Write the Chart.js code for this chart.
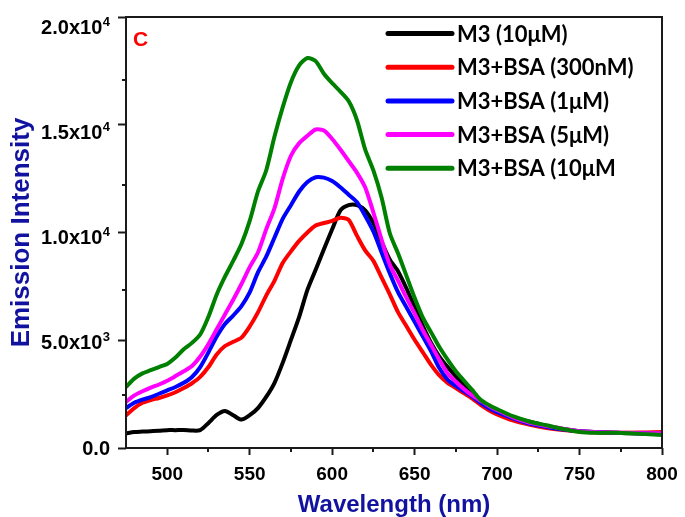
<!DOCTYPE html>
<html>
<head>
<meta charset="utf-8">
<script src="https://cdn.jsdelivr.net/npm/chart.js@4.4.1/dist/chart.umd.min.js"></script>
<style>
  html, body { margin: 0; padding: 0; background: #ffffff; }
  #wrap { width: 685px; height: 517px; position: relative; }
</style>
</head>
<body>
<div id="wrap"><canvas id="c" width="685" height="517"></canvas></div>
<script>
// Emission wavelengths (nm)
const wavelengths = [
  475, 480, 485, 490, 495, 500, 505, 510, 515, 520,
  525, 530, 535, 540, 545, 550, 555, 560, 565, 570,
  575, 580, 585, 590, 595, 600, 605, 610, 615, 620,
  625, 630, 635, 640, 645, 650, 655, 660, 665, 670,
  675, 680, 685, 690, 695, 700,
  710, 720, 730, 740, 750, 760, 770, 780, 790, 800
];

// Emission intensity for each sample
const m3Only = [
  700, 760, 780, 800, 820, 850, 850, 860, 830, 850,
  1190, 1570, 1760, 1560, 1350, 1560, 1900, 2430, 3090, 4050,
  5140, 6240, 7520, 8480, 9450, 10400, 11300, 11550, 11550, 11300,
  10700, 9800, 8950, 8400, 7600, 6700, 5800, 5000, 4350, 3850,
  3400, 3000, 2600, 2250, 2000, 1800,
  1450, 1250, 1050, 900, 800, 760, 730, 700, 690, 680
];
const bsa300nM = [
  1550, 1900, 2150, 2280, 2380, 2500, 2650, 2850, 3080, 3380,
  3850, 4450, 4850, 5050, 5250, 5780, 6450, 7250, 7950, 8800,
  9350, 9850, 10250, 10580, 10700, 10800, 10950, 10850, 10100, 9400,
  8900, 8100, 7300, 6450, 5800, 5150, 4550, 3950, 3450, 3100,
  2850, 2600, 2350, 2050, 1800, 1600,
  1300, 1100, 950, 850, 780, 740, 720, 730, 740, 760
];
const bsa1uM = [
  1900, 2150, 2300, 2420, 2580, 2740, 2900, 3100, 3380, 3850,
  4550, 5300, 5900, 6300, 6750, 7400, 8350, 9100, 10000, 10900,
  11550, 12200, 12650, 12880, 12860, 12700, 12400, 12050, 11700, 11050,
  10300, 9300, 8300, 7400, 6700, 6000, 5300, 4600, 3800, 3250,
  2950, 2700, 2450, 2150, 1900, 1700,
  1400, 1150, 1000, 880, 800, 760, 730, 710, 700, 690
];
const bsa5uM = [
  2190, 2500, 2700, 2870, 3020, 3200, 3420, 3650, 3900, 4350,
  4950, 5650, 6350, 7050, 7800, 8600, 9300, 10400, 11400, 12800,
  13900, 14500, 14850, 15150, 15100, 14700, 14200, 13650, 13100, 12400,
  11200, 9900, 8700, 7950, 7150, 6400, 5600, 4900, 4200, 3550,
  3150, 2800, 2500, 2250, 2000, 1800,
  1450, 1200, 1050, 920, 800, 760, 740, 720, 700, 700
];
const bsa10uM = [
  2900, 3300, 3550, 3700, 3850, 4000, 4300, 4700, 5000, 5400,
  6240, 7300, 8150, 8900, 9700, 10800, 12200, 13200, 14800, 16200,
  17400, 18200, 18550, 18400, 17800, 17350, 16950, 16500, 15600, 14200,
  13200, 11900, 10200, 9250, 8200, 7150, 6200, 5500, 4800, 4200,
  3650, 3200, 2750, 2300, 2050, 1850,
  1500, 1250, 1080, 900, 760, 720, 720, 700, 660, 620
];

const seriesNames = ['M3 (10\u03bcM)', 'M3+BSA (300nM)', 'M3+BSA (1\u03bcM)', 'M3+BSA (5\u03bcM)', 'M3+BSA (10\u03bcM'];
const seriesValues = [m3Only, bsa300nM, bsa1uM, bsa5uM, bsa10uM];
const seriesColors = ['#000000', '#ff0000', '#0000ff', '#ff00ff', '#008000'];

// Axis tick labels: mantissa and power of ten
const yTickValues = [0, 5000, 10000, 15000, 20000];
const yTickLabels = [['0.0', ''], ['5.0x10', '3'], ['1.0x10', '4'], ['1.5x10', '4'], ['2.0x10', '4']];
const yMinorTicks = [2500, 7500, 12500, 17500];
const xMinorTicks = [525, 575, 625, 675, 725, 775];

const TITLE_BLUE = '#1212a0';
const AXIS_FONT = '"Liberation Sans", Arial, sans-serif';

const datasets = seriesValues.map((vals, i) => ({
  label: seriesNames[i],
  data: wavelengths.map((w, j) => ({ x: w, y: vals[j] })),
  borderColor: seriesColors[i],
  backgroundColor: seriesColors[i],
  borderWidth: 4,
  pointRadius: 0,
  tension: 0.25,
  fill: false,
  order: seriesValues.length - 1 - i
}));

// Frame, minor ticks, y tick labels with exponents, panel letter and legend
const decorations = {
  id: 'decorations',
  afterDatasetsDraw(chart) {
    const ctx = chart.ctx;
    const a = chart.chartArea;
    const xs = chart.scales.x, ys = chart.scales.y;
    ctx.save();
    // plot frame
    ctx.strokeStyle = '#1a1a1a';
    ctx.lineWidth = 2;
    ctx.strokeRect(a.left, a.top, a.right - a.left, a.bottom - a.top);

    // minor ticks
    ctx.beginPath();
    yMinorTicks.forEach(v => {
      const y = Math.round(ys.getPixelForValue(v));
      ctx.moveTo(a.left, y); ctx.lineTo(a.left - 4, y);
    });
    xMinorTicks.forEach(v => {
      const x = Math.round(xs.getPixelForValue(v));
      ctx.moveTo(x, a.bottom); ctx.lineTo(x, a.bottom + 4);
    });
    ctx.stroke();

    // y tick labels
    ctx.fillStyle = '#000000';
    ctx.textBaseline = 'middle';
    const rightEdge = a.left - 16;
    yTickValues.forEach((v, i) => {
      const y = ys.getPixelForValue(v);
      const [base, exp] = yTickLabels[i];
      ctx.font = 'bold 13px ' + AXIS_FONT;
      const ew = exp ? ctx.measureText(exp).width : 0;
      if (exp) {
        ctx.textAlign = 'right';
        ctx.fillText(exp, rightEdge, y - 5);
      }
      ctx.font = 'bold 20px ' + AXIS_FONT;
      ctx.textAlign = 'right';
      ctx.fillText(base, rightEdge - ew - (exp ? 0.5 : 0), y + 1);
    });

    // panel letter
    ctx.fillStyle = '#ff0000';
    ctx.font = 'bold 21px ' + AXIS_FONT;
    ctx.textAlign = 'left';
    ctx.textBaseline = 'alphabetic';
    ctx.fillText('C', a.left + 7, a.top + 29);

    // legend
    const lx0 = 388, lx1 = 452, tx = 457, ly0 = 33.5, dy = 33.7;
    chart.data.datasets.forEach((ds, i) => {
      const y = ly0 + i * dy;
      ctx.strokeStyle = ds.borderColor;
      ctx.lineWidth = 5;
      ctx.lineCap = 'round';
      ctx.beginPath();
      ctx.moveTo(lx0, y); ctx.lineTo(lx1, y);
      ctx.stroke();
      ctx.fillStyle = '#000000';
      ctx.font = 'bold 22px Lato, "Open Sans", sans-serif';
      ctx.textBaseline = 'middle';
      ctx.textAlign = 'left';
      ctx.fillText(ds.label, tx, y + 1);
    });
    ctx.restore();
  }
};

new Chart(document.getElementById('c'), {
  type: 'line',
  data: { datasets },
  options: {
    responsive: false,
    animation: false,
    devicePixelRatio: 1,
    layout: { padding: { left: 0, top: 17, right: 23, bottom: 0 } },
    plugins: { legend: { display: false }, tooltip: { enabled: false } },
    scales: {
      x: {
        type: 'linear',
        min: 475,
        max: 800,
        border: { display: false },
        grid: { drawOnChartArea: false, drawTicks: true, tickLength: 7, tickWidth: 2, tickColor: '#1a1a1a' },
        ticks: {
          stepSize: 50,
          includeBounds: false,
          color: '#000000',
          padding: 8,
          maxRotation: 0,
          font: { family: AXIS_FONT, size: 19, weight: 'bold' }
        },
        title: {
          display: true,
          text: 'Wavelength (nm)',
          color: TITLE_BLUE,
          font: { family: AXIS_FONT, size: 24, weight: 'bold', lineHeight: 0.95 },
          padding: { top: 0, bottom: 0 }
        },
        afterFit(scale) {
          scale.height = 69;
          scale.paddingLeft = 0;
          scale.paddingRight = 0;
        }
      },
      y: {
        type: 'linear',
        min: 0,
        max: 20500,
        border: { display: false },
        grid: { drawOnChartArea: false, drawTicks: true, tickLength: 8, tickWidth: 2, tickColor: '#1a1a1a' },
        ticks: { stepSize: 5000, includeBounds: false, display: false },
        title: {
          display: true,
          text: 'Emission Intensity',
          color: TITLE_BLUE,
          font: { family: AXIS_FONT, size: 26, weight: 'bold' },
          padding: { top: 6, bottom: 0 }
        },
        afterFit(scale) {
          scale.width = 126;
          scale.paddingTop = 0;
          scale.paddingBottom = 0;
        }
      }
    }
  },
  plugins: [decorations]
});
</script>
</body>
</html>
